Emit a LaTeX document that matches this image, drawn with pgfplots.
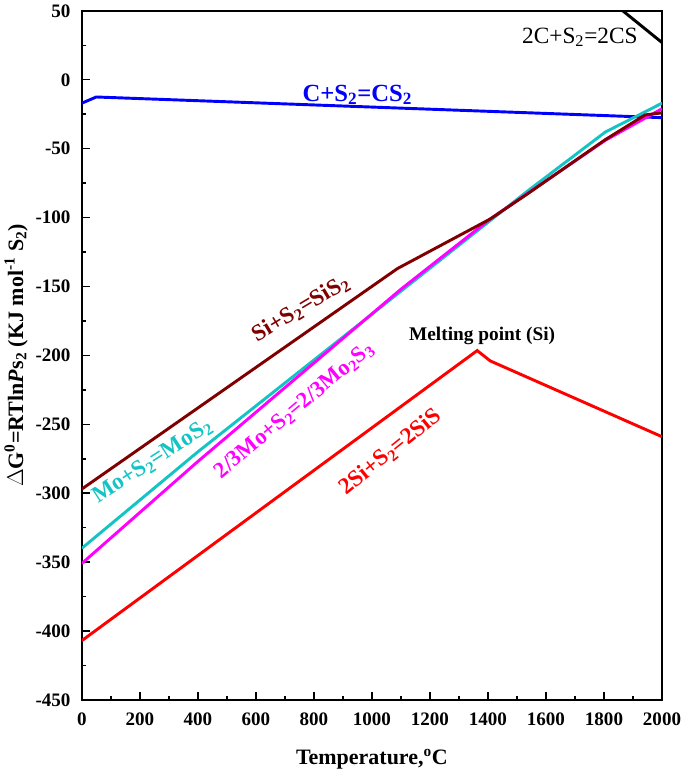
\documentclass[border=0pt]{standalone}
\usepackage{pgfplots}
\pgfplotsset{compat=1.18}
\usepackage{fontspec}
\setmainfont{Liberation Serif}
\definecolor{maroonline}{RGB}{128,0,0}
\definecolor{cyanline}{RGB}{20,196,196}
\definecolor{magline}{RGB}{255,0,255}

\begin{document}
\begin{tikzpicture}
\begin{axis}[
  scale only axis, width=435.75pt, height=517.5pt,
  xmin=0, xmax=2000, ymin=-450, ymax=50,
  xtick={0,200,...,2000}, ytick={-450,-400,...,50},
  minor x tick num=1, minor y tick num=1,
  tick pos=left, tick align=inside,
  major tick length=6pt, minor tick length=3pt,
  axis line style={line width=1.4pt},
  every tick/.style={line width=1.1pt, black},
  /pgf/number format/assume math mode=true,
  /pgf/number format/set thousands separator={},
  tick label style={font=\fontsize{14.3}{14.3}\selectfont\bfseries},
  xticklabel shift=6pt, yticklabel shift=5pt,
  label style={font=\fontsize{16.5}{16.5}\selectfont\bfseries},
  xlabel shift=11pt, ylabel shift=-1pt,
  xlabel={Temperature,\textsuperscript{o}C},
  ylabel={$\Delta$G\textsuperscript{0}=RTln\textit{P}s\textsubscript{2} (KJ mol\textsuperscript{-1} S\textsubscript{2})},
  clip=true,
]
\addplot[blue, line width=2.2pt] coordinates {(0,-17) (50,-12.5) (2000,-27.5)};
\addplot[black, line width=2.2pt] coordinates {(1865,50) (2000,27)};
\addplot[cyanline, line width=2.2pt] coordinates {(0,-340) (400,-270) (1535,-81) (1804,-38) (2000,-17)};
\addplot[magline, line width=2.2pt] coordinates {(0,-351) (400,-277) (1100,-152) (1408,-101) (1804,-44) (2000,-21)};
\addplot[maroonline, line width=2.2pt] coordinates {(0,-297) (1088,-137) (1408,-101) (1535,-83) (1804,-43.5) (1942,-25.5) (2000,-24)};
\addplot[red, line width=2.2pt] coordinates {(0,-407) (1363,-196.5) (1408,-204) (2000,-259)};

\node[blue, font=\fontsize{18.5}{18.5}\selectfont\bfseries] at (axis cs:950,-11) {C+S\textsubscript{2}=CS\textsubscript{2}};
\node[black, font=\fontsize{17.5}{17.5}\selectfont] at (axis cs:1717,31) {2C+S\textsubscript{2}=2CS};
\node[maroonline, rotate=31, font=\fontsize{17.5}{17.5}\selectfont\bfseries] at (axis cs:755,-166) {Si+S\textsubscript{2}=SiS\textsubscript{2}};
\node[cyanline, rotate=33, font=\fontsize{17.5}{17.5}\selectfont\bfseries] at (axis cs:244,-277) {Mo+S\textsubscript{2}=MoS\textsubscript{2}};
\node[magline, rotate=40, font=\fontsize{17}{17}\selectfont\bfseries] at (axis cs:733,-240) {2/3Mo+S\textsubscript{2}=2/3Mo\textsubscript{2}S\textsubscript{3}};
\node[red, rotate=39, font=\fontsize{17.5}{17.5}\selectfont\bfseries] at (axis cs:1064,-270) {2Si+S\textsubscript{2}=2SiS};
\node[black, font=\fontsize{14.5}{14.5}\selectfont\bfseries] at (axis cs:1380,-186) {Melting point (Si)};
\end{axis}
\end{tikzpicture}
\end{document}
